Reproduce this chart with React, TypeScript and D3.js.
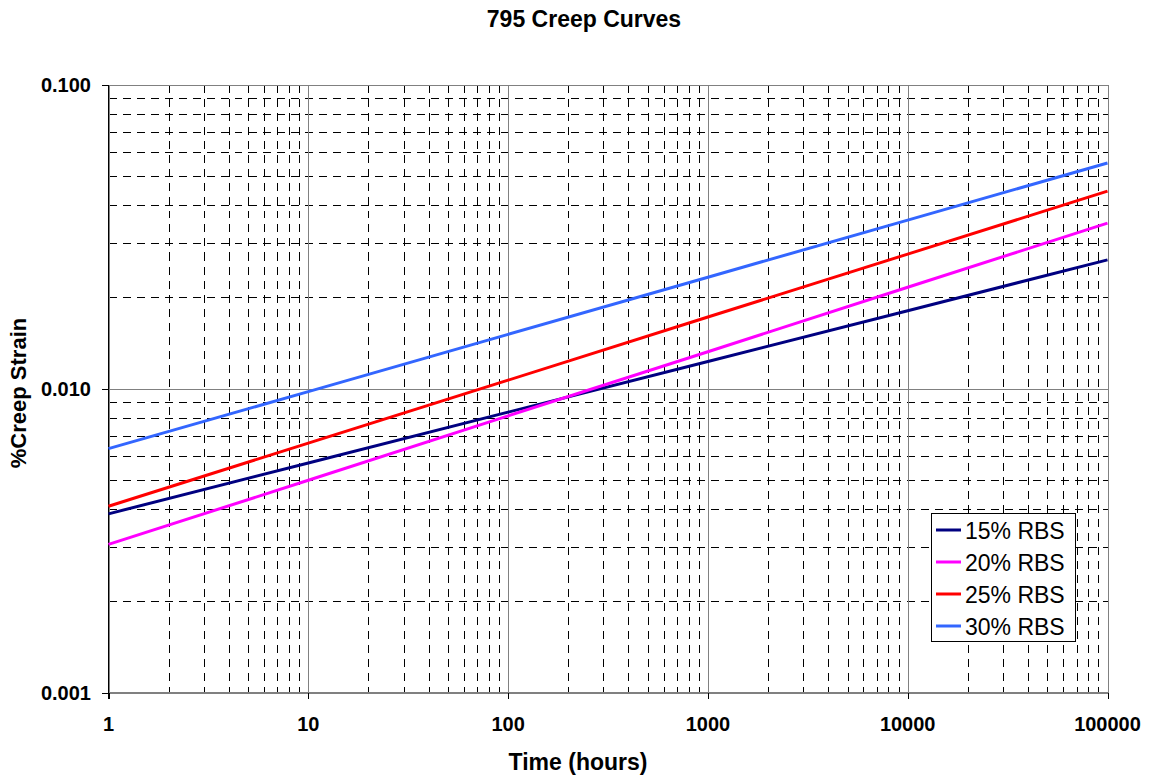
import React from "react";
import * as d3 from "d3";

const timeHours = [1, 10, 100, 1000, 10000, 100000];
const strain15 = [0.00387, 0.00569, 0.00836, 0.01227, 0.01803, 0.0265];
const strain20 = [0.00307, 0.00499, 0.00813, 0.01321, 0.02153, 0.035];
const strain25 = [0.0041, 0.00661, 0.01065, 0.01718, 0.02767, 0.0446];
const strain30 = [0.00634, 0.00977, 0.01507, 0.02323, 0.03581, 0.0552];

const seriesNames = ["15% RBS", "20% RBS", "25% RBS", "30% RBS"];
const seriesColors = ["#000080", "#FF00FF", "#FF0000", "#3366FF"];
const seriesValues = [strain15, strain20, strain25, strain30];

const xTicks = [1, 10, 100, 1000, 10000, 100000];
const xTickLabels = ["1", "10", "100", "1000", "10000", "100000"];
const yTicks = [0.001, 0.01, 0.1];
const yTickLabels = ["0.001", "0.010", "0.100"];

const W = 1151;
const H = 778;
const L = 108.5;
const R = 1107.5;
const T = 84.5;
const B = 692.5;
const FONT = "'Liberation Sans', Arial, sans-serif";

export default function App() {
  const x = d3.scaleLog().domain([1, 100000]).range([L, R]);
  const y = d3.scaleLog().domain([0.001, 0.1]).range([B, T]);

  const xMinor: number[] = [];
  for (let d = 1; d < 100000; d *= 10) for (let k = 2; k <= 9; k++) xMinor.push(d * k);
  const yMinor: number[] = [];
  for (let d = 0.001; d < 0.1 - 1e-9; d *= 10) for (let k = 2; k <= 9; k++) yMinor.push(d * k);

  const line = d3
    .line<[number, number]>()
    .x((d) => x(d[0]))
    .y((d) => y(d[1]));

  const dash = "8,6";
  const snap = (v: number) => Math.round(v) + 0.5;

  return (
    <div style={{ position: "absolute", left: 0, top: 0 }}>
      <svg width={W} height={H} style={{ display: "block", background: "#fff" }}>
        <rect x={0} y={0} width={W} height={H} fill="#fff" />
        {/* minor grid */}
        <g stroke="#000" strokeWidth={1} strokeDasharray={dash} shapeRendering="crispEdges">
          {xMinor.map((v, i) => (
            <line key={"xm" + i} x1={snap(x(v))} x2={snap(x(v))} y1={T} y2={B} />
          ))}
          {yMinor.map((v, i) => (
            <line key={"ym" + i} x1={L} x2={R} y1={snap(y(v))} y2={snap(y(v))} />
          ))}
        </g>
        {/* major grid */}
        <g stroke="#808080" strokeWidth={1} shapeRendering="crispEdges">
          {xTicks.map((v, i) => (
            <line key={"xM" + i} x1={snap(x(v))} x2={snap(x(v))} y1={T} y2={B} />
          ))}
          {yTicks.map((v, i) => (
            <line key={"yM" + i} x1={L} x2={R} y1={snap(y(v))} y2={snap(y(v))} />
          ))}
        </g>
        {/* axes */}
        <g stroke="#000" strokeWidth={1} shapeRendering="crispEdges">
          <line x1={L} x2={L} y1={T} y2={B + 6} />
          <line x1={L} x2={R} y1={B} y2={B} stroke="#808080" />
          {yTicks.map((v, i) => (
            <line key={"yt" + i} x1={L - 7} x2={L} y1={snap(y(v))} y2={snap(y(v))} />
          ))}
          {xTicks.map((v, i) => (
            <line key={"xt" + i} x1={snap(x(v))} x2={snap(x(v))} y1={B} y2={B + 6} />
          ))}
        </g>
        {/* series */}
        {seriesValues.map((vals, si) => (
          <path
            key={"s" + si}
            d={line(vals.map((v, i) => [timeHours[i], v] as [number, number])) || ""}
            fill="none"
            stroke={seriesColors[si]}
            strokeWidth={3}
          />
        ))}
        {/* tick labels */}
        <g fontFamily={FONT} fontWeight="bold" fontSize={20} fill="#000">
          {yTicks.map((v, i) => (
            <text key={"yl" + i} x={91} y={y(v) + 7.5} textAnchor="end">
              {yTickLabels[i]}
            </text>
          ))}
          {xTicks.map((v, i) => (
            <text key={"xl" + i} x={x(v)} y={731} textAnchor="middle">
              {xTickLabels[i]}
            </text>
          ))}
        </g>
        {/* titles */}
        <text x={584} y={27} textAnchor="middle" fontFamily={FONT} fontWeight="bold" fontSize={23}>
          795 Creep Curves
        </text>
        <text x={578} y={770} textAnchor="middle" fontFamily={FONT} fontWeight="bold" fontSize={23}>
          Time (hours)
        </text>
        <text
          transform={`translate(26,393) rotate(-90)`}
          textAnchor="middle"
          fontFamily={FONT}
          fontWeight="bold"
          fontSize={22}
        >
          %Creep Strain
        </text>
        {/* legend */}
        <g>
          <rect x={931.5} y={513.5} width={144} height={128} fill="#fff" stroke="#000" strokeWidth={1} shapeRendering="crispEdges" />
          {seriesNames.map((n, i) => {
            const cy = 530 + i * 32;
            return (
              <g key={"lg" + i}>
                <line x1={936} x2={961} y1={cy} y2={cy} stroke={seriesColors[i]} strokeWidth={3} />
                <text x={965} y={cy + 8.5} fontFamily={FONT} fontSize={23} fill="#000">
                  {n}
                </text>
              </g>
            );
          })}
        </g>
      </svg>
    </div>
  );
}
